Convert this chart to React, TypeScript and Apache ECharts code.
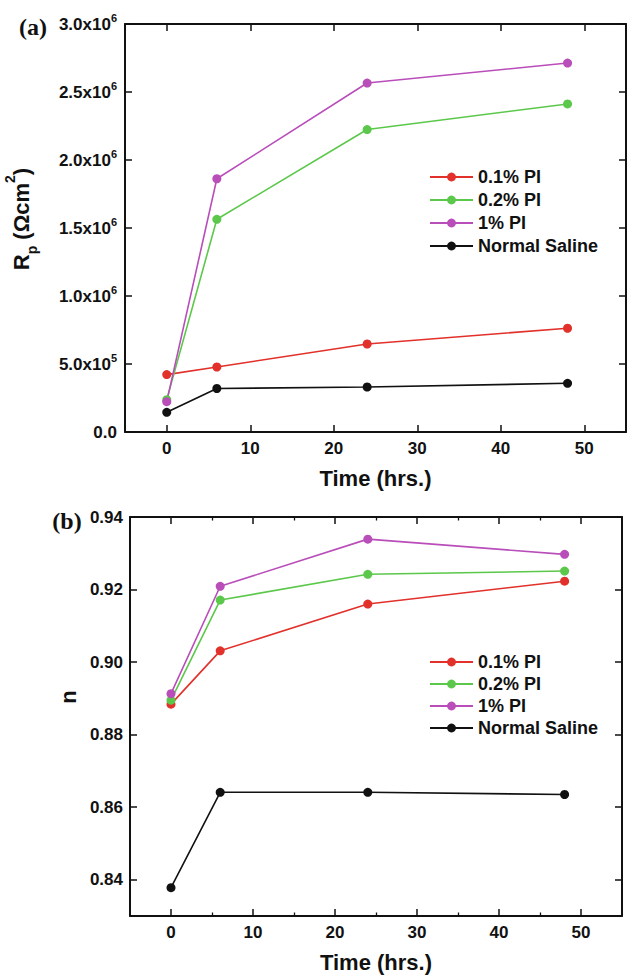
import React, { useEffect, useRef } from "react";
import * as echarts from "echarts";

const seriesNames = ["0.1% PI", "0.2% PI", "1% PI", "Normal Saline"];
const seriesColors = ["#E2302A", "#5CC84B", "#B94DB9", "#111111"];
const timeHrs = [0, 6, 24, 48];

// Panel (a): Rp (Ω cm²)
const rpPI01 = [4.22e5, 4.78e5, 6.47e5, 7.63e5];
const rpPI02 = [2.38e5, 1.564e6, 2.224e6, 2.412e6];
const rpPI1 = [2.23e5, 1.862e6, 2.566e6, 2.713e6];
const rpSaline = [1.45e5, 3.2e5, 3.31e5, 3.58e5];

// Panel (b): n
const nPI01 = [0.8884, 0.9031, 0.916, 0.9223];
const nPI02 = [0.8895, 0.9171, 0.9242, 0.9251];
const nPI1 = [0.8913, 0.9209, 0.9339, 0.9297];
const nSaline = [0.8378, 0.8641, 0.8641, 0.8635];

const xTicks = [0, 10, 20, 30, 40, 50];
const xMinorTicks = [5, 15, 25, 35, 45];
const rpTicks = [0, 5e5, 1e6, 1.5e6, 2e6, 2.5e6, 3e6];
const nTicks = [0.84, 0.86, 0.88, 0.9, 0.92, 0.94];

const SANS = "Liberation Sans";
const SERIF = "Liberation Serif";
const INK = "#111111";

function fmtRp(v: number): string {
  if (Math.abs(v) < 1e-9) return "{m|0.0}";
  const e = Math.floor(Math.log10(v) + 1e-9);
  const m = (v / Math.pow(10, e)).toFixed(1);
  return `{m|${m}x10}{s|${e}}`;
}

export default function App() {
  const ref = useRef<HTMLDivElement>(null);

  useEffect(() => {
    if (!ref.current) return;
    const chart = echarts.init(ref.current, undefined, { renderer: "svg" });

    const lineW = 2;
    const axisLine = { show: true, onZero: false, lineStyle: { color: INK, width: lineW } };
    const majorTick = (vals: number[]) => ({
      show: true,
      inside: true,
      length: 7,
      lineStyle: { color: INK, width: 1.5 },
      customValues: vals,
    });
    const minorTick = (vals: number[]) => ({
      show: true,
      inside: true,
      length: 3.5,
      lineStyle: { color: INK, width: 1.3 },
      customValues: vals,
    });
    const tickLabel = {
      show: true,
      fontSize: 17,
      fontWeight: "bold" as const,
      fontFamily: SANS,
      color: INK,
      margin: 8,
    };
    const xName = {
      name: "Time (hrs.)",
      nameLocation: "middle" as const,
      nameGap: 35,
      nameTextStyle: { fontSize: 22, fontWeight: "bold" as const, fontFamily: SANS, color: INK },
    };

    const xBase = (gridIndex: number) => ({
      type: "value" as const,
      gridIndex,
      min: -5,
      max: 55,
      splitLine: { show: false },
    });

    const makeSeries = (vals: number[], i: number, xi: number, yi: number) => ({
      name: seriesNames[i],
      type: "line" as const,
      xAxisIndex: xi,
      yAxisIndex: yi,
      data: timeHrs.map((t, k) => [t, vals[k]]),
      symbol: "circle",
      symbolSize: 9,
      lineStyle: { color: seriesColors[i], width: 1.6 },
      itemStyle: { color: seriesColors[i] },
      emphasis: { disabled: true },
    });

    const legendCommon = {
      data: seriesNames,
      orient: "vertical" as const,
      left: 429,
      padding: 0,
      itemWidth: 43,
      itemHeight: 11,
      selectedMode: false,
      textStyle: { fontSize: 18, fontWeight: "bold" as const, fontFamily: SANS, color: INK, lineHeight: 18 },
    };

    chart.setOption({
      animation: false,
      backgroundColor: "#ffffff",
      grid: [
        { left: 125, top: 24, width: 501, height: 408 },
        { left: 130, top: 517, width: 492, height: 399 },
      ],
      xAxis: [
        { ...xBase(0), position: "bottom", axisLine, axisTick: majorTick(xTicks), axisLabel: { ...tickLabel, customValues: xTicks }, ...xName },
        { ...xBase(0), position: "top", axisLine, axisTick: majorTick(xTicks), axisLabel: { show: false } },
        { ...xBase(1), position: "bottom", axisLine, axisTick: majorTick(xTicks), axisLabel: { ...tickLabel, customValues: xTicks }, ...xName },
        { ...xBase(1), position: "top", axisLine, axisTick: majorTick(xTicks), axisLabel: { show: false } },
        { ...xBase(1), position: "bottom", axisLine: { show: false, onZero: false }, axisTick: minorTick(xMinorTicks), axisLabel: { show: false } },
        { ...xBase(1), position: "top", axisLine: { show: false, onZero: false }, axisTick: minorTick(xMinorTicks), axisLabel: { show: false } },
      ],
      yAxis: [
        {
          type: "value",
          gridIndex: 0,
          position: "left",
          min: 0,
          max: 3e6,
          splitLine: { show: false },
          axisLine,
          axisTick: majorTick(rpTicks),
          axisLabel: {
            ...tickLabel,
            customValues: rpTicks,
            formatter: (v: number) => fmtRp(v),
            rich: {
              m: { fontSize: 17, fontWeight: "bold", fontFamily: SANS, color: INK, lineHeight: 24 },
              s: { fontSize: 11, fontWeight: "bold", fontFamily: SANS, color: INK, lineHeight: 14, verticalAlign: "top" },
            },
          },
        },
        {
          type: "value",
          gridIndex: 0,
          position: "right",
          min: 0,
          max: 3e6,
          splitLine: { show: false },
          axisLine,
          axisTick: majorTick(rpTicks),
          axisLabel: { show: false },
        },
        {
          type: "value",
          gridIndex: 1,
          position: "left",
          min: 0.83,
          max: 0.94,
          splitLine: { show: false },
          axisLine,
          axisTick: majorTick(nTicks),
          axisLabel: { ...tickLabel, margin: 7, customValues: nTicks, formatter: (v: number) => v.toFixed(2) },
        },
        {
          type: "value",
          gridIndex: 1,
          position: "right",
          min: 0.83,
          max: 0.94,
          splitLine: { show: false },
          axisLine,
          axisTick: majorTick(nTicks),
          axisLabel: { show: false },
        },
      ],
      legend: [
        { ...legendCommon, top: 168, itemGap: 5 },
        { ...legendCommon, top: 653, itemGap: 4 },
      ],
      graphic: [
        {
          type: "text",
          x: 33,
          y: 27,
          style: { text: "(a)", font: `bold 24px "${SERIF}"`, fill: INK, align: "center", verticalAlign: "middle" },
        },
        {
          type: "text",
          x: 67,
          y: 521,
          style: { text: "(b)", font: `bold 24px "${SERIF}"`, fill: INK, align: "center", verticalAlign: "middle" },
        },
        {
          type: "text",
          x: 21,
          y: 219,
          rotation: Math.PI / 2,
          style: {
            text: "{r|R}{p|p}{r| (Ωcm}{s|2}{r|)}",
            align: "center",
            verticalAlign: "middle",
            fill: INK,
            rich: {
              r: { fontSize: 22, fontWeight: "bold", fontFamily: SANS, fill: INK, lineHeight: 36 },
              p: { fontSize: 14, fontWeight: "bold", fontFamily: SANS, fill: INK, lineHeight: 16, verticalAlign: "bottom" },
              s: { fontSize: 14, fontWeight: "bold", fontFamily: SANS, fill: INK, lineHeight: 16, verticalAlign: "top" },
            },
          },
        },
        {
          type: "text",
          x: 68,
          y: 697,
          rotation: Math.PI / 2,
          style: { text: "n", font: `bold 22px "${SANS}"`, fill: INK, align: "center", verticalAlign: "middle" },
        },
      ],
      series: [
        makeSeries(rpPI01, 0, 0, 0),
        makeSeries(rpPI02, 1, 0, 0),
        makeSeries(rpPI1, 2, 0, 0),
        makeSeries(rpSaline, 3, 0, 0),
        makeSeries(nPI01, 0, 2, 2),
        makeSeries(nPI02, 1, 2, 2),
        makeSeries(nPI1, 2, 2, 2),
        makeSeries(nSaline, 3, 2, 2),
      ],
    });

    return () => chart.dispose();
  }, []);

  return (
    <div
      ref={ref}
      style={{ position: "absolute", left: 0, top: 0, width: 627, height: 975, background: "#fff" }}
    />
  );
}
